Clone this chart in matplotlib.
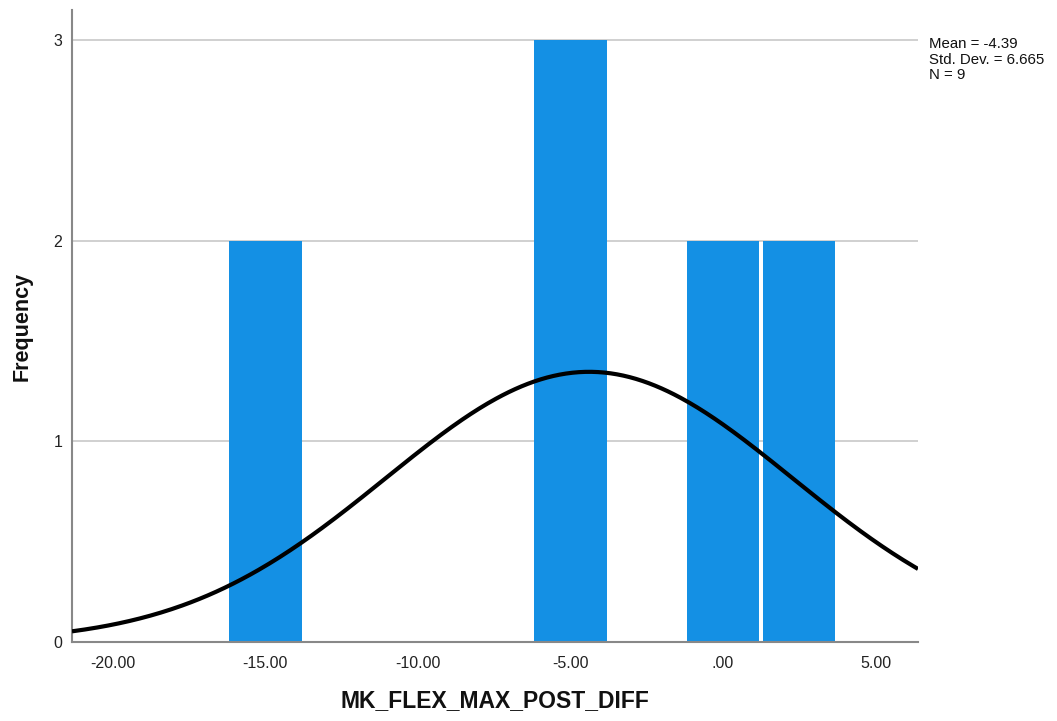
import numpy as np
import matplotlib.pyplot as plt

plt.rcParams['font.family'] = ['Liberation Sans', 'DejaVu Sans']

# histogram bins (width 2.5) and counts
bin_centers = [-15.0, -5.0, 0.0, 2.5]
bin_width = 2.5
counts = [2, 3, 2, 2]

mean = -4.39
std = 6.665
n = 9

fig = plt.figure(figsize=(10.57, 7.21), dpi=100)
ax = fig.add_axes([0.0681, 0.1096, 0.8004, 0.8764])

# bars drawn a bit narrower than the bin to leave SPSS-style white gaps
ax.bar(bin_centers, counts, width=bin_width - 0.13, color='#1490e4',
       linewidth=0, zorder=2)

xs = np.linspace(-21.34, 6.39, 400)
ys = n * bin_width / (std * np.sqrt(2 * np.pi)) * np.exp(-0.5 * ((xs - mean) / std) ** 2)
ax.plot(xs, ys, color='black', lw=3, zorder=3, solid_capstyle='butt')

ax.set_xlim(-21.34, 6.39)
ax.set_ylim(0, 3.15)
ax.set_xticks([-20, -15, -10, -5, 0, 5])
ax.set_xticklabels(['-20.00', '-15.00', '-10.00', '-5.00', '.00', '5.00'])
ax.set_yticks([0, 1, 2, 3])
ax.tick_params(length=0, labelsize=11.5, colors='#222222')
ax.tick_params(axis='x', pad=10)
ax.tick_params(axis='y', pad=7)
for y in [1, 2, 3]:
    ax.axhline(y, color='#c8c8c8', lw=1.2, zorder=1)

for s in ['top', 'right']:
    ax.spines[s].set_visible(False)
for s in ['left', 'bottom']:
    ax.spines[s].set_color('#888888')
    ax.spines[s].set_linewidth(1.5)

ax.set_xlabel('MK_FLEX_MAX_POST_DIFF', fontsize=16.5, fontweight='bold',
              color='#111111', labelpad=13)
ax.set_ylabel('Frequency', fontsize=15.5, fontweight='bold',
              color='#111111', labelpad=15)

fig.text(0.879, 0.948, 'Mean = -4.39\nStd. Dev. = 6.665\nN = 9',
         fontsize=10.8, va='top', ha='left', linespacing=1.1, color='#111111')

fig.savefig('out.png', dpi=100)
